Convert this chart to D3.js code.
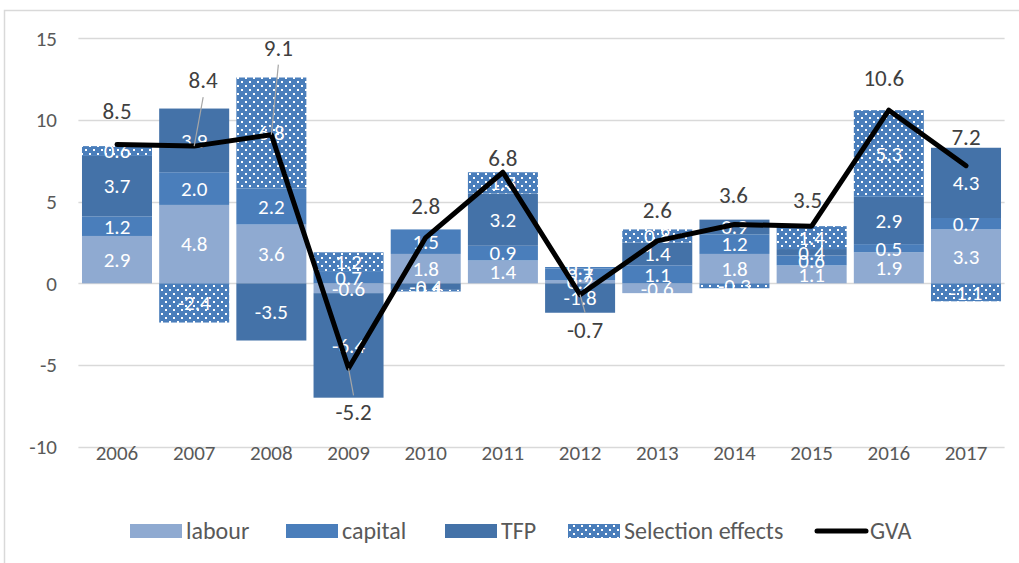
<!DOCTYPE html>
<html>
<head>
<meta charset="utf-8">
<script src="https://cdn.jsdelivr.net/npm/d3@7"></script>
<style>
  body { margin: 0; background: #fff; }
  svg text { font-family: Calibri, Carlito, "Liberation Sans", sans-serif; }
</style>
</head>
<body>
<div id="chart"></div>
<script>
// data
var years = ["2006", "2007", "2008", "2009", "2010", "2011", "2012", "2013", "2014", "2015", "2016", "2017"];
var labour = [2.9, 4.8, 3.6, -0.6, 1.8, 1.4, 0.2, -0.6, 1.8, 1.1, 1.9, 3.3];
var capital = [1.2, 2.0, 2.2, 0.7, 1.5, 0.9, 0.7, 1.1, 1.2, 0.6, 0.5, 0.7];
var tfp = [3.7, 3.9, -3.5, -6.4, -0.4, 3.2, -1.8, 1.4, 0.9, 0.4, 2.9, 4.3];
var selection = [0.6, -2.4, 6.8, 1.2, -0.1, 1.3, 0.1, 0.8, -0.3, 1.4, 5.3, -1.1];
var gva = [8.5, 8.4, 9.1, -5.2, 2.8, 6.8, -0.7, 2.6, 3.6, 3.5, 10.6, 7.2];
var yTicks = [-10, -5, 0, 5, 10, 15];

var seriesNames = ["labour", "capital", "TFP", "Selection effects"];
var seriesKeys = ["labour", "capital", "tfp", "selection"];

// where the GVA labels were moved to (pixels from the point), and which have leader lines
var gvaLabelShift = [[0, -34], [9, -66], [7, -87], [5, 44], [0, -32], [0, -14], [5, 35], [0, -31], [-1, -30], [-4, -26], [-5, -32], [0, -29]];
var gvaLeader = [false, true, true, true, false, false, true, false, false, false, false, false];

var width = 1019, height = 563;

var fmt = function(v) { return d3.format(".1f")(v).replace("\u2212", "-") };

var svg = d3.select("#chart").append("svg")
    .attr("width", width)
    .attr("height", height);

var defs = svg.append("defs");
var pat = defs.append("pattern")
    .attr("id", "dots")
    .attr("patternUnits", "userSpaceOnUse")
    .attr("width", 8)
    .attr("height", 8);
pat.append("rect").attr("width", 8).attr("height", 8).attr("fill", "#4a7ebb");
pat.append("rect").attr("x", 1).attr("y", 1).attr("width", 2).attr("height", 2).attr("fill", "#fff");
pat.append("rect").attr("x", 5).attr("y", 5).attr("width", 2).attr("height", 2).attr("fill", "#fff");

var colors = { labour: "#8faad1", capital: "#4a7ebb", tfp: "#4472a8", selection: "url(#dots)" };

// outer frame (chart is cropped on the right and bottom)
svg.append("rect")
    .attr("x", 4.5).attr("y", 10.5)
    .attr("width", 1100).attr("height", 700)
    .attr("fill", "none")
    .attr("stroke", "#d9d9d9")
    .attr("stroke-width", 1.5);

var x = d3.scaleBand()
    .domain(years)
    .range([78.4, 1004.6])
    .paddingInner(0.093)
    .paddingOuter(0.0465);

var y = d3.scaleLinear()
    .domain([-10, 15])
    .range([446.7, 38.3]);

// gridlines
svg.append("g")
    .selectAll("line")
    .data(yTicks)
    .enter().append("line")
    .attr("x1", 78.4)
    .attr("x2", 1004.6)
    .attr("y1", function(d) { return Math.round(y(d)) + 0.5 })
    .attr("y2", function(d) { return Math.round(y(d)) + 0.5 })
    .attr("stroke", "#d9d9d9")
    .attr("stroke-width", 1.3);

// y labels
svg.append("g")
    .selectAll("text")
    .data(yTicks)
    .enter().append("text")
    .attr("x", 57)
    .attr("y", function(d) { return y(d) })
    .attr("dy", "0.35em")
    .attr("text-anchor", "end")
    .attr("font-size", 21)
    .attr("fill", "#595959")
    .text(function(d) { return d });

// x labels
svg.append("g")
    .selectAll("text")
    .data(years)
    .enter().append("text")
    .attr("x", function(d) { return x(d) + x.bandwidth() / 2 })
    .attr("y", 453)
    .attr("dy", "0.35em")
    .attr("text-anchor", "middle")
    .attr("font-size", 21)
    .attr("fill", "#595959")
    .text(function(d) { return d });

// stacked bars
var rows = years.map(function(yr, i) {
    return { year: yr, labour: labour[i], capital: capital[i], tfp: tfp[i], selection: selection[i] };
});

var stack = d3.stack()
    .keys(seriesKeys)
    .offset(d3.stackOffsetDiverging);
var stacked = stack(rows);

var layers = svg.append("g")
    .selectAll("g")
    .data(stacked)
    .enter().append("g")
    .attr("fill", function(s) { return colors[s.key] });

layers.selectAll("rect")
    .data(function(s) { return s })
    .enter().append("rect")
    .attr("x", function(d) { return x(d.data.year) })
    .attr("width", x.bandwidth())
    .attr("y", function(d) { return y(Math.max(d[0], d[1])) })
    .attr("height", function(d) { return Math.abs(y(d[0]) - y(d[1])) });

// segment labels
var segLabels = svg.append("g");
stacked.forEach(function(s) {
    s.forEach(function(d) {
        segLabels.append("text")
            .attr("x", x(d.data.year) + x.bandwidth() / 2)
            .attr("y", y((d[0] + d[1]) / 2))
            .attr("dy", "0.35em")
            .attr("text-anchor", "middle")
            .attr("font-size", 21)
            .attr("fill", "#fff")
            .text(fmt(d.data[s.key]));
    });
});

// GVA line
var line = d3.line()
    .x(function(d, i) { return x(years[i]) + x.bandwidth() / 2 })
    .y(function(d) { return y(d) });

svg.append("path")
    .datum(gva)
    .attr("d", line)
    .attr("fill", "none")
    .attr("stroke", "#000")
    .attr("stroke-width", 5)
    .attr("stroke-linejoin", "round")
    .attr("stroke-linecap", "round");

// GVA labels with leader lines
var gvaG = svg.append("g");
gva.forEach(function(v, i) {
    var px = x(years[i]) + x.bandwidth() / 2, py = y(v);
    var lx = px + gvaLabelShift[i][0], ly = py + gvaLabelShift[i][1];
    if (gvaLeader[i]) {
        var up = gvaLabelShift[i][1] < 0;
        gvaG.append("line")
            .attr("x1", lx).attr("y1", up ? ly + 17 : ly - 17)
            .attr("x2", px).attr("y2", py)
            .attr("stroke", "#a6a6a6")
            .attr("stroke-width", 1.2);
    }
    gvaG.append("text")
        .attr("x", lx)
        .attr("y", ly)
        .attr("dy", "0.35em")
        .attr("text-anchor", "middle")
        .attr("font-size", 23)
        .attr("fill", "#404040")
        .text(fmt(v));
});

// legend
var legendItems = [
    { name: "labour", fill: colors.labour, x: 130 },
    { name: "capital", fill: colors.capital, x: 286 },
    { name: "TFP", fill: colors.tfp, x: 445 },
    { name: "Selection effects", fill: colors.selection, x: 568 },
    { name: "GVA", fill: null, x: 814 }
];
var legend = svg.append("g");
legendItems.forEach(function(it) {
    if (it.fill) {
        legend.append("rect")
            .attr("x", it.x).attr("y", 524)
            .attr("width", 52).attr("height", 14)
            .attr("fill", it.fill);
    } else {
        legend.append("line")
            .attr("x1", it.x + 3).attr("x2", it.x + 52)
            .attr("y1", 531).attr("y2", 531)
            .attr("stroke", "#000")
            .attr("stroke-width", 5)
            .attr("stroke-linecap", "round");
    }
    legend.append("text")
        .attr("x", it.x + 56)
        .attr("y", 531)
        .attr("dy", "0.35em")
        .attr("font-size", 24)
        .attr("fill", "#595959")
        .text(it.name);
});
</script>
</body>
</html>
